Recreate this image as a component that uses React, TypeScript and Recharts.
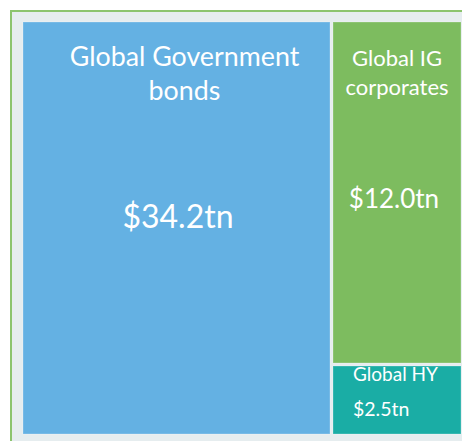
import React from 'react';
import { Treemap } from 'recharts';

// ---- data ----
const categories = ['Global Government bonds', 'Global IG corporates', 'Global HY'];
const nameLines = [['Global Government', 'bonds'], ['Global IG', 'corporates'], ['Global HY']];
const values = [34.2, 12.0, 2.5];
const valueLabels = ['$34.2tn', '$12.0tn', '$2.5tn'];

// ---- styles ----
const colors = ['#64B1E3', '#7DBC5F', '#1AADA5'];
const FONT = 'Lato, "Open Sans", sans-serif';

const data = categories.map((name, i) => ({ name, size: values[i], idx: i }));

const Tile = (props: any) => {
  const { x, y, width, height, depth, idx } = props;
  if (depth !== 1 || width == null) return null;
  const rl = x + 2;
  const rt = y + 2;
  const rw = Math.max(0, width - 3);
  const rh = Math.max(0, height - 3);
  const lines = nameLines[idx];
  const cx = rl + rw / 2;
  let texts: React.ReactNode = null;
  if (idx === 0) {
    texts = (
      <>
        <text x={cx + 8} y={rt + 44} textAnchor="middle" fill="#fff" fontSize={26.8} fontFamily={FONT}>{lines[0]}</text>
        <text x={cx + 8} y={rt + 78} textAnchor="middle" fill="#fff" fontSize={26.8} fontFamily={FONT}>{lines[1]}</text>
        <text x={cx + 1.5} y={rt + 206} textAnchor="middle" fill="#fff" fontSize={32} fontFamily={FONT}>{valueLabels[idx]}</text>
      </>
    );
  } else if (idx === 1) {
    texts = (
      <>
        <text x={cx} y={rt + 44} textAnchor="middle" fill="#fff" fontSize={22} fontFamily={FONT}>{lines[0]}</text>
        <text x={cx} y={rt + 73} textAnchor="middle" fill="#fff" fontSize={22} fontFamily={FONT}>{lines[1]}</text>
        <text x={cx - 3} y={rt + 186} textAnchor="middle" fill="#fff" fontSize={26} fontFamily={FONT}>{valueLabels[idx]}</text>
      </>
    );
  } else {
    const rb = rt + rh;
    texts = (
      <>
        <text x={rl + 20} y={rb - 53} textAnchor="start" fill="#fff" fontSize={19} fontFamily={FONT}>{lines[0]}</text>
        <text x={rl + 20} y={rb - 18} textAnchor="start" fill="#fff" fontSize={19.5} fontFamily={FONT}>{valueLabels[idx]}</text>
      </>
    );
  }
  return (
    <g>
      <rect x={rl} y={rt} width={rw} height={rh} fill={colors[idx]} stroke="rgba(255,255,255,0.25)" strokeWidth={1} />
      {texts}
    </g>
  );
};

export default function App() {
  return (
    <div style={{ position: 'absolute', left: 0, top: 0, width: 462, height: 441, background: '#fff', overflow: 'hidden' }}>
      <div
        style={{
          position: 'absolute',
          left: 10,
          top: 10,
          width: 470,
          height: 440,
          background: '#E6EDEF',
          borderLeft: '2px solid #8CC46E',
          borderTop: '2px solid #8CC46E',
        }}
      />
      <div style={{ position: 'absolute', left: 21, top: 20 }}>
        <Treemap
          width={441}
          height={415}
          data={data}
          dataKey="size"
          isAnimationActive={false}
          content={<Tile />}
        />
      </div>
    </div>
  );
}
